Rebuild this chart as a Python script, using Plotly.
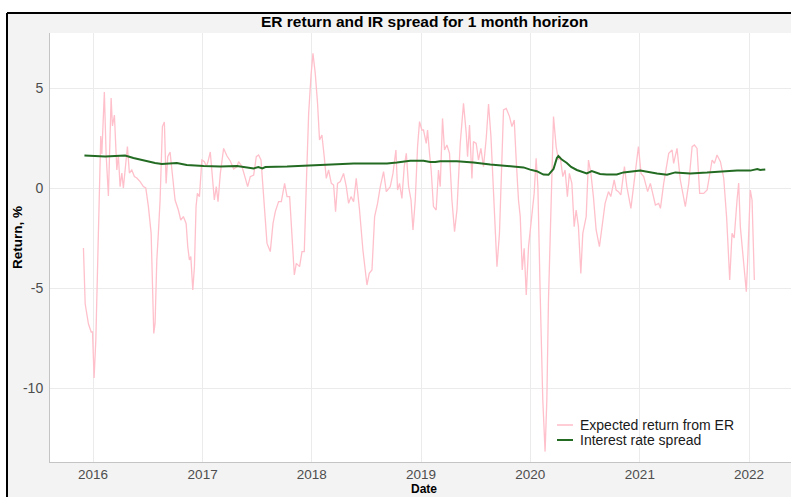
import pandas as pd
import plotly.graph_objects as go

# Expected return from the exchange rate (1-month horizon), % — dates as decimal years
er_t = [2015.911, 2015.927, 2015.957, 2015.982, 2015.994, 2016.009, 2016.025, 2016.048, 2016.070, 2016.080,
        2016.103, 2016.119, 2016.140, 2016.165, 2016.177, 2016.195, 2016.217, 2016.231, 2016.247, 2016.263,
        2016.277, 2016.293, 2016.314, 2016.332, 2016.354, 2016.378, 2016.400, 2016.430, 2016.460, 2016.482,
        2016.506, 2016.531, 2016.543, 2016.555, 2016.567, 2016.583, 2016.597, 2016.613, 2016.634, 2016.652,
        2016.668, 2016.683, 2016.704, 2016.720, 2016.750, 2016.780, 2016.802, 2016.826, 2016.851, 2016.866,
        2016.881, 2016.894, 2016.912, 2016.927, 2016.942, 2016.954, 2016.973, 2016.995, 2017.016, 2017.034,
        2017.049, 2017.070, 2017.091, 2017.107, 2017.125, 2017.141, 2017.162, 2017.192, 2017.223, 2017.253,
        2017.284, 2017.315, 2017.329, 2017.360, 2017.391, 2017.412, 2017.436, 2017.467, 2017.491, 2017.512,
        2017.534, 2017.553, 2017.574, 2017.589, 2017.619, 2017.644, 2017.665, 2017.695, 2017.720, 2017.750,
        2017.772, 2017.796, 2017.818, 2017.839, 2017.857, 2017.887, 2017.909, 2017.930, 2017.949, 2017.970,
        2017.992, 2018.010, 2018.031, 2018.052, 2018.070, 2018.092, 2018.113, 2018.132, 2018.153, 2018.178,
        2018.199, 2018.217, 2018.235, 2018.260, 2018.290, 2018.315, 2018.336, 2018.358, 2018.382, 2018.406,
        2018.436, 2018.467, 2018.504, 2018.525, 2018.550, 2018.574, 2018.601, 2018.626, 2018.656, 2018.681,
        2018.717, 2018.742, 2018.769, 2018.784, 2018.802, 2018.824, 2018.845, 2018.864, 2018.885, 2018.907,
        2018.925, 2018.946, 2018.967, 2018.985, 2019.007, 2019.022, 2019.047, 2019.059, 2019.077, 2019.092,
        2019.113, 2019.138, 2019.159, 2019.175, 2019.196, 2019.214, 2019.236, 2019.260, 2019.282, 2019.306,
        2019.328, 2019.358, 2019.388, 2019.413, 2019.425, 2019.443, 2019.465, 2019.479, 2019.504, 2019.525,
        2019.547, 2019.571, 2019.596, 2019.617, 2019.639, 2019.662, 2019.694, 2019.717, 2019.739, 2019.754,
        2019.779, 2019.809, 2019.831, 2019.852, 2019.870, 2019.891, 2019.907, 2019.925, 2019.943, 2019.962,
        2019.983, 2020.014, 2020.035, 2020.053, 2020.069, 2020.090, 2020.114, 2020.135, 2020.151, 2020.166,
        2020.188, 2020.212, 2020.236, 2020.257, 2020.273, 2020.297, 2020.318, 2020.339, 2020.357, 2020.380,
        2020.401, 2020.419, 2020.440, 2020.462, 2020.480, 2020.511, 2020.532, 2020.554, 2020.577, 2020.602,
        2020.632, 2020.654, 2020.684, 2020.715, 2020.736, 2020.767, 2020.785, 2020.806, 2020.828, 2020.861,
        2020.883, 2020.920, 2020.950, 2020.989, 2021.011, 2021.035, 2021.071, 2021.096, 2021.142, 2021.172,
        2021.188, 2021.218, 2021.264, 2021.295, 2021.309, 2021.340, 2021.370, 2021.416, 2021.447, 2021.478,
        2021.499, 2021.523, 2021.547, 2021.584, 2021.615, 2021.661, 2021.682, 2021.706, 2021.737, 2021.767,
        2021.794, 2021.822, 2021.843, 2021.863, 2021.889, 2021.904, 2021.919, 2021.950, 2021.974, 2021.989,
        2022.011, 2022.027, 2022.048]
er_ret = [-3.0, -5.8, -6.8, -7.2, -7.2, -9.5, -7.6, -1.9, 2.6, 1.7,
          4.8, 1.7, -0.4, 4.5, 3.1, 3.65, 0.9, 1.65, 0.07, 0.75,
          0.0, 0.9, 2.07, 0.75, 0.9, 0.57, 0.5, 0.32, 0.07, 0.0,
          -0.93, -2.27, -4.43, -7.27, -6.77, -3.6, -2.27, -0.6, 3.07, 3.3,
          0.23, 1.57, 1.8, 0.9, -0.6, -1.1, -1.6, -1.43, -1.77, -2.93,
          -3.6, -3.43, -5.1, -3.93, -0.93, -0.27, -0.43, 1.4, 1.32, 1.07,
          1.32, 1.8, 0.23, -0.6, 0.07, -0.68, 0.73, 1.98, 1.6, 1.35,
          0.95, 1.07, 1.32, 1.07, 0.48, 0.07, 0.57, 0.65, 1.57, 1.65,
          1.4, 0.07, -1.77, -2.77, -3.18, -1.77, -1.18, -0.68, -0.68, 0.23,
          -0.43, -0.43, -2.43, -4.35, -3.77, -3.93, -3.18, -3.18, 0.23, 3.73,
          5.65, 6.73, 5.73, 4.23, 2.4, 2.65, 1.57, 0.48, 0.9, 0.23,
          0.15, -1.18, 0.23, 0.32, 0.73, 0.07, -0.77, -0.43, -0.68, 0.48,
          -1.1, -3.1, -4.85, -4.27, -4.1, -1.43, -0.77, 0.07, 0.82, -0.18,
          0.07, 0.73, 1.9, -0.1, 0.23, -0.52, 1.07, 1.73, 0.07, -0.6,
          -2.1, -0.6, 2.07, 3.32, 2.9, 2.9, 2.23, 2.9, 1.73, 0.9,
          -0.93, -1.1, 0.9, 0.07, 3.48, 1.9, 2.15, 1.73, -0.6, -2.18,
          -1.1, 2.23, 4.23, 2.73, 1.57, 3.15, 0.48, 2.32, 2.23, 1.4,
          1.98, 1.07, 2.5, 4.2, 2.57, -0.27, -3.93, -2.27, 1.4, 3.9,
          3.98, 3.57, 3.07, 3.4, 1.4, -0.6, -1.43, -4.1, -3.02, -5.35,
          -2.93, -1.27, -0.27, 1.48, 0.07, -5.27, -10.6, -13.18, -10.6, -5.6,
          -0.6, 3.57, 2.07, 1.4, 1.57, 0.57, 0.9, -0.43, 0.73, 0.23,
          -1.93, -1.1, -1.93, -4.27, -2.27, -1.43, 1.4, 0.73, -0.43, -2.1,
          -2.93, -2.1, -0.77, -0.18, -0.43, 0.4, -0.1, -0.18, -0.35, 1.07,
          0.07, -1.02, 0.4, 2.07, 0.73, 0.57, -0.18, 0.23, -0.85, -0.77,
          -1.02, 0.23, 1.73, 1.9, 1.23, 1.98, 0.4, -0.93, 0.23, 2.07,
          2.15, 1.98, -0.27, -0.27, -0.1, 1.4, 1.23, 1.65, 1.32, 0.5,
          -1.5, -4.6, -2.27, -2.5, -0.6, 0.25, -1.93, -3.6, -5.18, -3.27,
          -0.1, -0.6, -4.6]

# Interest rate spread, %
ir_t = [2015.920, 2016.018, 2016.110, 2016.201, 2016.293, 2016.369, 2016.430, 2016.506, 2016.567, 2016.629,
        2016.686, 2016.766, 2016.857, 2016.933, 2017.009, 2017.162, 2017.315, 2017.467, 2017.510, 2017.546,
        2017.574, 2017.772, 2017.955, 2018.077, 2018.230, 2018.382, 2018.534, 2018.687, 2018.778, 2018.836,
        2018.900, 2019.022, 2019.083, 2019.130, 2019.175, 2019.328, 2019.479, 2019.633, 2019.785, 2019.937,
        2019.998, 2020.059, 2020.120, 2020.166, 2020.212, 2020.243, 2020.257, 2020.288, 2020.334, 2020.373,
        2020.425, 2020.516, 2020.562, 2020.638, 2020.699, 2020.791, 2020.852, 2021.004, 2021.157, 2021.248,
        2021.324, 2021.461, 2021.614, 2021.767, 2021.889, 2022.011, 2022.075, 2022.102, 2022.148]
ir_spread = [1.62, 1.58, 1.57, 1.6, 1.62, 1.5, 1.42, 1.32, 1.25, 1.2,
             1.22, 1.25, 1.15, 1.12, 1.1, 1.08, 1.1, 0.98, 1.05, 0.98,
             1.05, 1.07, 1.12, 1.18, 1.22, 1.23, 1.23, 1.23, 1.27, 1.33,
             1.36, 1.36, 1.3, 1.3, 1.34, 1.34, 1.28, 1.17, 1.1, 1.03,
             0.92, 0.84, 0.67, 0.66, 0.95, 1.5, 1.6, 1.42, 1.25, 1.05,
             0.9, 0.73, 0.85, 0.7, 0.68, 0.68, 0.78, 0.87, 0.73, 0.66,
             0.78, 0.73, 0.77, 0.82, 0.88, 0.87, 0.95, 0.9, 0.93]

year_ticks = [2016, 2017, 2018, 2019, 2020, 2021, 2022]
y_ticks = [-10, -5, 0, 5]

series_names = ["Expected return from ER", "Interest rate spread"]
series_colors = ["#ffc0cb", "#236b23"]
series_widths = [1.3, 2]


def to_date(y):
    yr = int(y)
    return pd.Timestamp(f"{yr}-01-01") + pd.Timedelta(days=(y - yr) * 365.25)


er_dates = [to_date(v) for v in er_t]
ir_dates = [to_date(v) for v in ir_t]

FONT = "Liberation Sans, Arial, sans-serif"

fig = go.Figure()
fig.add_trace(go.Scatter(x=er_dates, y=er_ret, mode="lines", name=series_names[0],
                         line=dict(color=series_colors[0], width=series_widths[0])))
fig.add_trace(go.Scatter(x=ir_dates, y=ir_spread, mode="lines", name=series_names[1],
                         line=dict(color=series_colors[1], width=series_widths[1])))

W, H = 791, 497
L, R, T, B = 50, 0, 33, 35
pw, ph = W - L - R, H - T - B


def px(xp):
    return (xp - L) / pw


def py(yp):
    return (H - B - yp) / ph


shapes = [
    # white strips outside the framed figure
    dict(type="rect", xref="paper", yref="paper", x0=px(0), x1=px(W), y0=py(13), y1=py(0),
         fillcolor="white", line=dict(width=0), layer="above"),
    dict(type="rect", xref="paper", yref="paper", x0=px(0), x1=px(7), y0=py(H), y1=py(0),
         fillcolor="white", line=dict(width=0), layer="above"),
    # black frame edges
    dict(type="line", xref="paper", yref="paper", x0=px(7), x1=px(W), y0=py(13), y1=py(13),
         line=dict(color="black", width=2), layer="above"),
    dict(type="line", xref="paper", yref="paper", x0=px(7), x1=px(7), y0=py(13), y1=py(H),
         line=dict(color="black", width=2), layer="above"),
]

# legend keys drawn as short line samples
leg_rows = [425, 440]
for col, wid, yrow in zip(series_colors, [1.6, 2], leg_rows):
    shapes.append(dict(type="line", xref="paper", yref="paper", x0=px(557), x1=px(573),
                       y0=py(yrow), y1=py(yrow), line=dict(color=col, width=wid)))

annotations = [
    dict(text="<b>ER return and IR spread for 1 month horizon</b>", xref="paper", yref="paper",
         x=px(424), y=py(21), xanchor="center", yanchor="middle", showarrow=False,
         font=dict(family=FONT, size=15.5, color="black")),
    dict(text="<b>Return, %</b>", xref="paper", yref="paper", x=px(17), y=py(238),
         xanchor="center", yanchor="middle", textangle=-90, showarrow=False,
         font=dict(family=FONT, size=13.5, color="black")),
    dict(text="<b>Date</b>", xref="paper", yref="paper", x=px(424), y=py(489),
         xanchor="center", yanchor="middle", showarrow=False, borderpad=0,
         font=dict(family=FONT, size=12, color="black")),
]
for name, yrow in zip(series_names, leg_rows):
    annotations.append(dict(text=name, xref="paper", yref="paper", x=px(578), y=py(yrow),
                            xanchor="left", yanchor="middle", showarrow=False,
                            font=dict(family=FONT, size=14, color="#1a1a1a")))

fig.update_layout(
    width=W, height=H,
    margin=dict(l=L, r=R, t=T, b=B, pad=0),
    paper_bgcolor="#f3f3f3", plot_bgcolor="white",
    showlegend=False,
    font=dict(family=FONT, size=14, color="#4d4d4d"),
    shapes=shapes, annotations=annotations,
)
fig.update_xaxes(
    type="date", range=["2015-08-10", "2022-05-21"],
    tickvals=[pd.Timestamp(f"{y}-01-01") for y in year_ticks],
    ticktext=[str(y) for y in year_ticks],
    showgrid=True, gridcolor="#ebebeb", gridwidth=1,
    showline=True, linecolor="#c4c4c4", linewidth=1,
    ticks="", ticklen=0,
    tickfont=dict(family=FONT, size=13.5, color="#4d4d4d"),
    zeroline=False,
)
fig.update_yaxes(
    range=[-13.7, 7.75], tickvals=y_ticks, ticktext=[str(v) for v in y_ticks],
    showgrid=True, gridcolor="#ebebeb", gridwidth=1,
    zeroline=False,
    showline=True, linecolor="#c4c4c4", linewidth=1,
    ticks="outside", ticklen=3, tickcolor="rgba(0,0,0,0)",
    tickfont=dict(family=FONT, size=14, color="#4d4d4d"),
)

fig.write_html("out.html")
